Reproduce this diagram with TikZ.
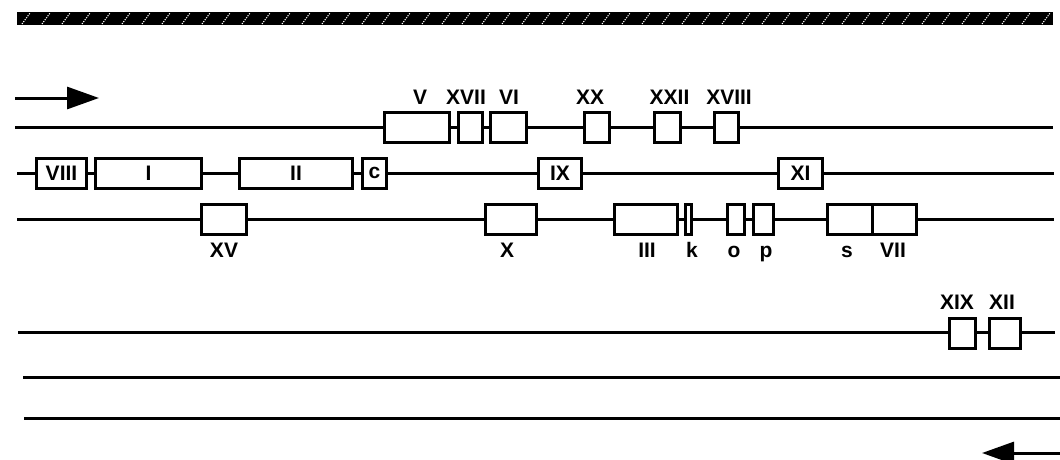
\documentclass[tikz,border=0pt]{standalone}
\usepackage{fontspec}
\setmainfont{Liberation Sans}
\usetikzlibrary{arrows.meta}
\newcommand{\genefont}{\fontsize{21}{24}\selectfont\bfseries}
\tikzset{
  strand/.style={line width=3pt},
  gene/.style={draw,line width=3pt,fill=white,minimum height=30pt,inner sep=0pt,font=\genefont},
  lbl/.style={anchor=base,inner sep=0pt,font=\genefont},
  bigtip/.style={-{Triangle[length=32pt,width=22pt]}},
}

\begin{document}
\begin{tikzpicture}[x=1pt,y=-1pt]
  \useasboundingbox (0,0) rectangle (1060,460);
  % Hatched band
  \fill (17,12) rectangle (1053,25);
  \foreach \x in {22,42,...,1042}
    \draw[white,line width=1pt,dash pattern=on 1.2pt off 1.2pt] (\x,24) -- (\x+8,13);
  % Forward arrow
  \coordinate (fw) at (15,98);
  \coordinate (fwtip) at (99,98);
  \draw[strand,bigtip] (fw) -- (fwtip);
  % Row 1
  \coordinate (r1w) at (15,127);
  \coordinate (r1e) at (1053,127);
  \draw[strand] (r1w) -- (r1e);
  \node[gene,minimum width=65pt] (V) at (417,127) {};
  \node[gene,minimum width=24pt] (XVII) at (470.5,127) {};
  \node[gene,minimum width=36pt] (VI) at (508.5,127) {};
  \node[gene,minimum width=25pt] (XX) at (597,127) {};
  \node[gene,minimum width=26pt] (XXII) at (667.5,127) {};
  \node[gene,minimum width=24pt] (XVIII) at (726.5,127) {};
  \node[lbl] (lV) at (420,104.5) {V};
  \node[lbl] (lXVII) at (466,104.5) {XVII};
  \node[lbl] (lVI) at (509,104.5) {VI};
  \node[lbl] (lXX) at (590,104.5) {XX};
  \node[lbl] (lXXII) at (669.5,104.5) {XXII};
  \node[lbl] (lXVIII) at (729,104.5) {XVIII};
  % Row 2
  \coordinate (r2w) at (17,173);
  \coordinate (r2e) at (1054,173);
  \draw[strand] (r2w) -- (r2e);
  \node[gene,minimum width=50pt] (VIII) at (61.5,173) {VIII};
  \node[gene,minimum width=106pt] (I) at (148.5,173) {I};
  \node[gene,minimum width=113pt] (II) at (296,173) {II};
  \node[gene,minimum width=24pt] (c) at (374.5,173) {c};
  \node[gene,minimum width=43pt] (IX) at (560,173) {IX};
  \node[gene,minimum width=44pt] (XI) at (800.5,173) {XI};
  % Row 3
  \coordinate (r3w) at (17,219);
  \coordinate (r3e) at (1054,219);
  \draw[strand] (r3w) -- (r3e);
  \node[gene,minimum width=45pt] (XV) at (224,219) {};
  \node[gene,minimum width=51pt] (X) at (511,219) {};
  \node[gene,minimum width=63pt] (III) at (646,219) {};
  \node[gene,minimum width=6pt] (k) at (688.5,219) {};
  \node[gene,minimum width=17pt] (o) at (736,219) {};
  \node[gene,minimum width=20pt] (p) at (763.5,219) {};
  \node[gene,minimum width=44.5pt] (s) at (849.75,219) {};
  \node[gene,minimum width=44.5pt] (VII) at (894.25,219) {};
  \node[lbl] (lXV) at (224,257) {XV};
  \node[lbl] (lX) at (507,257) {X};
  \node[lbl] (lIII) at (647,257) {III};
  \node[lbl] (lk) at (692,257) {k};
  \node[lbl] (lo) at (734,257) {o};
  \node[lbl] (lp) at (766,257) {p};
  \node[lbl] (ls) at (847,257) {s};
  \node[lbl] (lVII) at (893,257) {VII};
  % Row 4
  \coordinate (r4w) at (18,332);
  \coordinate (r4e) at (1055,332);
  \draw[strand] (r4w) -- (r4e);
  \node[gene,minimum width=26pt] (XIX) at (962.5,333) {};
  \node[gene,minimum width=31pt] (XII) at (1005,333) {};
  \node[lbl] (lXIX) at (957,309) {XIX};
  \node[lbl] (lXII) at (1002,309) {XII};
  % Rows 5 and 6
  \coordinate (r5w) at (23,377);
  \coordinate (r5e) at (1060,377);
  \draw[strand] (r5w) -- (r5e);
  \coordinate (r6w) at (24,418);
  \coordinate (r6e) at (1060,418);
  \draw[strand] (r6w) -- (r6e);
  % Reverse arrow
  \coordinate (rv) at (1060,453);
  \coordinate (rvtip) at (982,453);
  \draw[strand,bigtip] (rv) -- (rvtip);
\end{tikzpicture}
\end{document}
